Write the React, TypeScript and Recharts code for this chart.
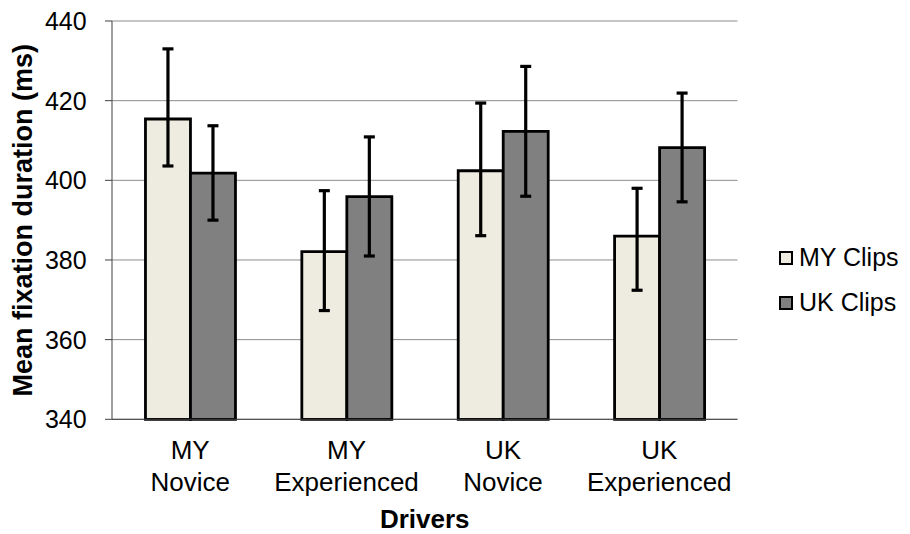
import React from 'react';
import { BarChart, Bar, XAxis, YAxis, CartesianGrid, ErrorBar, Legend } from 'recharts';

const categories = ['MY Novice', 'MY Experienced', 'UK Novice', 'UK Experienced'];
const myClipsMean = [415.4, 382.1, 402.4, 386.0];
const myClipsUpper = [433.0, 397.4, 419.4, 398.0];
const myClipsLower = [403.6, 367.3, 386.1, 372.4];
const ukClipsMean = [401.8, 395.9, 412.3, 408.2];
const ukClipsUpper = [413.7, 410.9, 428.6, 421.9];
const ukClipsLower = [390.0, 381.0, 396.0, 394.6];
const yTicks = [340, 360, 380, 400, 420, 440];
const boundaryTicks = [0, 1, 2, 3, 4];
const seriesNames = ['MY Clips', 'UK Clips'];
const seriesColors = ['#EEECE1', '#808080'];

const data = categories.map((c, i) => ({
  driver: c,
  my: myClipsMean[i],
  myErr: [myClipsMean[i] - myClipsLower[i], myClipsUpper[i] - myClipsMean[i]],
  uk: ukClipsMean[i],
  ukErr: [ukClipsMean[i] - ukClipsLower[i], ukClipsUpper[i] - ukClipsMean[i]],
}));

const W = 910;
const H = 534;
const FONT = '"Liberation Sans", Arial, sans-serif';
const AXIS = '#404040';

const CatTick = (props: any) => {
  const { x, y, payload } = props;
  const parts = String(payload.value).split(' ');
  return (
    <text x={x} y={y} textAnchor="middle" fontSize={26} fontFamily={FONT} fill="#000">
      <tspan x={x} dy={40}>{parts[0]}</tspan>
      <tspan x={x} dy={31.4}>{parts[1]}</tspan>
    </text>
  );
};

const LegendContent = () => (
  <div style={{ fontFamily: FONT, fontSize: 25, color: '#000', whiteSpace: 'nowrap', width: 130 }}>
    {seriesNames.map((n, i) => (
      <div key={n} style={{ display: 'flex', alignItems: 'center', height: 45 }}>
        <span
          style={{
            display: 'inline-block',
            flex: '0 0 14px',
            width: 14,
            height: 14,
            boxSizing: 'border-box',
            border: '2.5px solid #000',
            background: seriesColors[i],
            marginRight: 6,
          }}
        />
        <span style={{ flex: '0 0 auto' }}>{n}</span>
      </div>
    ))}
  </div>
);

export default function App() {
  return (
    <div style={{ position: 'absolute', left: 0, top: 0, width: W, height: H, background: '#fff' }}>
      <BarChart
        width={W}
        height={H}
        data={data}
        margin={{ top: 21, right: 172.5, bottom: 0, left: 0 }}
        barCategoryGap="21.4%"
        barGap={0}
      >
        <CartesianGrid xAxisId="cat" horizontal vertical={false} stroke="#8c8c8c" />
        <XAxis
          xAxisId="edge"
          type="number"
          domain={[0, 4]}
          ticks={boundaryTicks}
          allowDataOverflow
          height={0}
          tick={false}
          axisLine={false}
          tickSize={7}
          tickLine={{ stroke: AXIS }}
        />
        <XAxis
          xAxisId="cat"
          dataKey="driver"
          height={114.7}
          tickSize={0}
          tickMargin={0}
          tickLine={false}
          axisLine={{ stroke: AXIS }}
          tick={<CatTick />}
          interval={0}
          label={{
            value: 'Drivers',
            position: 'insideBottom',
            offset: 5.7,
            style: { fontWeight: 'bold', fontSize: 26, fill: '#000', fontFamily: FONT },
          }}
        />
        <YAxis
          domain={[340, 440]}
          ticks={yTicks}
          interval={0}
          width={112}
          tickSize={7}
          tickMargin={18.3}
          axisLine={{ stroke: AXIS }}
          tickLine={{ stroke: AXIS }}
          tick={{ fill: '#000', fontSize: 25, fontFamily: FONT }}
          label={{
            value: 'Mean fixation duration (ms)',
            angle: -90,
            position: 'insideLeft',
            offset: 22.5,
            style: { textAnchor: 'middle', fontWeight: 'bold', fontSize: 27, fill: '#000', fontFamily: FONT },
          }}
        />
        <Legend
          layout="vertical"
          align="right"
          verticalAlign="middle"
          content={<LegendContent />}
          wrapperStyle={{ left: 779, top: 235, width: 0, height: 0, overflow: 'visible', right: 'auto' }}
        />
        <Bar
          xAxisId="cat"
          dataKey="my"
          name={seriesNames[0]}
          fill={seriesColors[0]}
          stroke="#000"
          strokeWidth={2.8}
          isAnimationActive={false}
        >
          <ErrorBar dataKey="myErr" width={5.5} strokeWidth={3.2} stroke="#000" direction="y" />
        </Bar>
        <Bar
          xAxisId="cat"
          dataKey="uk"
          name={seriesNames[1]}
          fill={seriesColors[1]}
          stroke="#000"
          strokeWidth={2.8}
          isAnimationActive={false}
        >
          <ErrorBar dataKey="ukErr" width={5.5} strokeWidth={3.2} stroke="#000" direction="y" />
        </Bar>
      </BarChart>
    </div>
  );
}
